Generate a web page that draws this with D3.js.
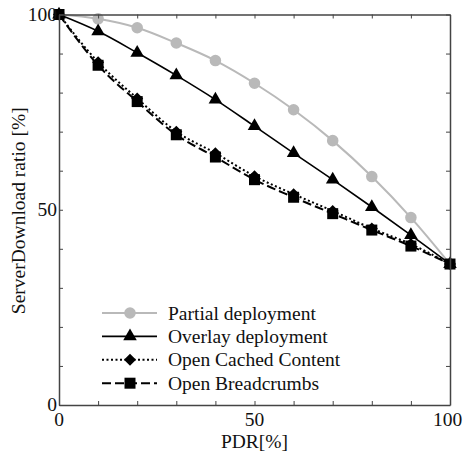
<!DOCTYPE html>
<html>
<head>
<meta charset="utf-8">
<script src="https://cdn.jsdelivr.net/npm/d3@7"></script>
<style>
  body { margin: 0; background: #fff; }
  text { font-family: "Liberation Serif", "Times New Roman", serif; fill: #111; font-size: 19.5px; }
</style>
</head>
<body>
<svg width="463" height="456"></svg>
<script>
// PDR values on the x axis
var pdr = [0, 10, 20, 30, 40, 50, 60, 70, 80, 90, 100];

// server download ratio for each series
var partialDeployment = [100, 98.9, 96.6, 92.7, 88.2, 82.4, 75.6, 67.7, 58.5, 48.0, 36.1];
var overlayDeployment = [100, 95.7, 90.2, 84.4, 78.2, 71.4, 64.5, 57.7, 50.7, 43.5, 36.1];
var openCachedContent = [100, 87.8, 78.5, 70.0, 64.5, 58.6, 54.0, 49.7, 45.2, 41.2, 36.1];
var openBreadcrumbs   = [100, 87.0, 77.7, 69.2, 63.5, 57.7, 53.2, 49.0, 44.8, 40.7, 36.1];

var seriesNames = ["Partial deployment", "Overlay deployment", "Open Cached Content", "Open Breadcrumbs"];
var labelTicks = [0, 50, 100];

var svg = d3.select("svg");
var mLeft = 59, mRight = 450, mTop = 14.5, mBottom = 405;

var x = d3.scaleLinear().domain([0, 100]).range([mLeft, mRight]);
var y = d3.scaleLinear().domain([0, 100]).range([mBottom, mTop]);

// diamond = square turned 45 degrees
var diamond = {
  draw: function (ctx, size) {
    var r = Math.sqrt(size / 2);
    ctx.moveTo(0, -r); ctx.lineTo(r, 0); ctx.lineTo(0, r); ctx.lineTo(-r, 0); ctx.closePath();
  }
};

// one entry per series, with its look
var series = [
  {name: seriesNames[0], values: partialDeployment, color: "#b9b9b9", dash: null, width: 2, marker: d3.symbolCircle, size: 105},
  {name: seriesNames[1], values: overlayDeployment, color: "#000", dash: null, width: 1.6, marker: d3.symbolTriangle, size: 80},
  {name: seriesNames[2], values: openCachedContent, color: "#000", dash: "2,2.5", width: 2, marker: diamond, size: 72},
  {name: seriesNames[3], values: openBreadcrumbs, color: "#000", dash: "9,4", width: 2, marker: d3.symbolSquare, size: 121}
];

var line = d3.line()
  .x(function (d) { return x(d.x); })
  .y(function (d) { return y(d.y); })
  .curve(d3.curveMonotoneX);

var plot = svg.append("g");

series.forEach(function (s) {
  var pts = pdr.map(function (p, i) { return {x: p, y: s.values[i]}; });
  plot.append("path")
    .datum(pts)
    .attr("d", line)
    .attr("fill", "none")
    .attr("stroke", s.color)
    .attr("stroke-width", s.width)
    .attr("stroke-dasharray", s.dash);
  plot.selectAll(null)
    .data(pts)
    .enter()
    .append("path")
    .attr("transform", function (d) { return "translate(" + x(d.x) + "," + y(d.y) + ")"; })
    .attr("d", d3.symbol().type(s.marker).size(s.size))
    .attr("fill", s.color);
});

// axes: ticks pointing inward on all four sides
var axisColor = "#444";
var tickVals = d3.range(0, 101, 10);
function styleAxis(g) {
  g.selectAll("text").remove();
  g.select(".domain").attr("stroke", axisColor).attr("stroke-width", 1.5);
  g.selectAll(".tick line").attr("stroke", axisColor).attr("stroke-width", 1);
}
svg.append("g").attr("transform", "translate(0," + mBottom + ")")
  .call(d3.axisBottom(x).tickValues(tickVals).tickSize(-4).tickSizeOuter(0)).call(styleAxis);
svg.append("g").attr("transform", "translate(0," + mTop + ")")
  .call(d3.axisTop(x).tickValues(tickVals).tickSize(-4).tickSizeOuter(0)).call(styleAxis);
svg.append("g").attr("transform", "translate(" + mLeft + ",0)")
  .call(d3.axisLeft(y).tickValues(tickVals).tickSize(-4).tickSizeOuter(0)).call(styleAxis);
svg.append("g").attr("transform", "translate(" + mRight + ",0)")
  .call(d3.axisRight(y).tickValues(tickVals).tickSize(-4).tickSizeOuter(0)).call(styleAxis);

// tick labels (last x label kept inside the page edge)
svg.selectAll(".xlab").data(labelTicks).enter().append("text")
  .attr("x", function (d) { return Math.min(x(d), 447.5); })
  .attr("y", mBottom + 21)
  .attr("text-anchor", "middle")
  .text(function (d) { return d; });
svg.selectAll(".ylab").data(labelTicks).enter().append("text")
  .attr("x", mLeft - 2)
  .attr("y", function (d) { return y(d) + 6; })
  .attr("text-anchor", "end")
  .text(function (d) { return d; });

// axis titles
svg.append("text")
  .attr("x", (mLeft + mRight) / 2)
  .attr("y", 448)
  .attr("text-anchor", "middle")
  .text("PDR[%]");
svg.append("text")
  .attr("transform", "translate(25," + ((mTop + mBottom) / 2 + 1) + ") rotate(-90)")
  .attr("text-anchor", "middle")
  .text("ServerDownload ratio [%]");

// legend
var legend = svg.append("g").attr("transform", "translate(102,313)");
series.forEach(function (s, i) {
  var g = legend.append("g").attr("transform", "translate(0," + (i * 23.4) + ")");
  g.append("line")
    .attr("x1", 0).attr("x2", 55)
    .attr("stroke", s.color)
    .attr("stroke-width", s.width)
    .attr("stroke-dasharray", s.dash);
  g.append("path")
    .attr("transform", "translate(28,0)")
    .attr("d", d3.symbol().type(s.marker).size(s.size))
    .attr("fill", s.color);
  g.append("text")
    .attr("x", 66)
    .attr("y", 6.5)
    .text(s.name);
});
</script>
</body>
</html>
